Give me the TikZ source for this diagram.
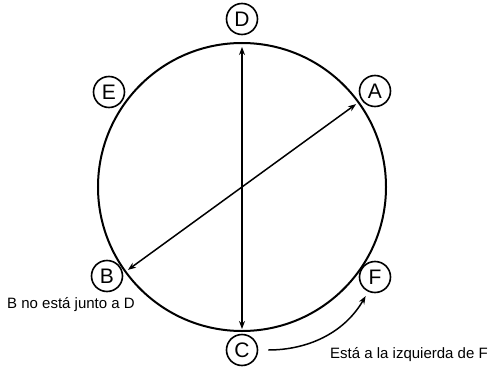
\documentclass[tikz,border=0pt]{standalone}
\usepackage{fontspec}
\setmainfont{Liberation Sans}
\usetikzlibrary{arrows.meta}
\begin{document}
\begin{tikzpicture}[x=1pt, y=1pt, >={Stealth[length=8pt, width=6pt]},
  letter/.style={circle, draw, line width=1.6pt, minimum size=31pt, inner sep=0pt, font=\fontsize{21}{21}\selectfont},
  note/.style={anchor=west, inner sep=0pt, font=\fontsize{15}{16}\selectfont}]
  \useasboundingbox (-242,-180) rectangle (258,187);
  \draw[line width=2pt] (0,0) circle (144);
  % letters round the table
  \node[letter] (D) at (0,168) {D};
  \node[letter] (C) at (0,-163) {C};
  \node[letter] (A) at (133,96) {A};
  \node[letter] (F) at (133,-90) {F};
  \node[letter] (B) at (-135,-89) {B};
  \node[letter] (E) at (-133,95) {E};
  % ends of the diameters
  \coordinate (top) at (90:140);
  \coordinate (bot) at (270:142);
  \coordinate (endA) at (36:141);
  \coordinate (endB) at (216:141);
  \draw[<->, line width=1.5pt] (top) -- (bot);
  \draw[<->, line width=1.5pt] (endA) -- (endB);
  \draw[->, line width=1.5pt, shorten <=10pt, shorten >=5pt] (C.east) to[out=0, in=-120] (F.-115);
  \node[note] (noteB) at (-235,-118) {B no está junto a D};
  \node[note] (noteC) at (88,-168) {Está a la izquierda de F};
\end{tikzpicture}
\end{document}
